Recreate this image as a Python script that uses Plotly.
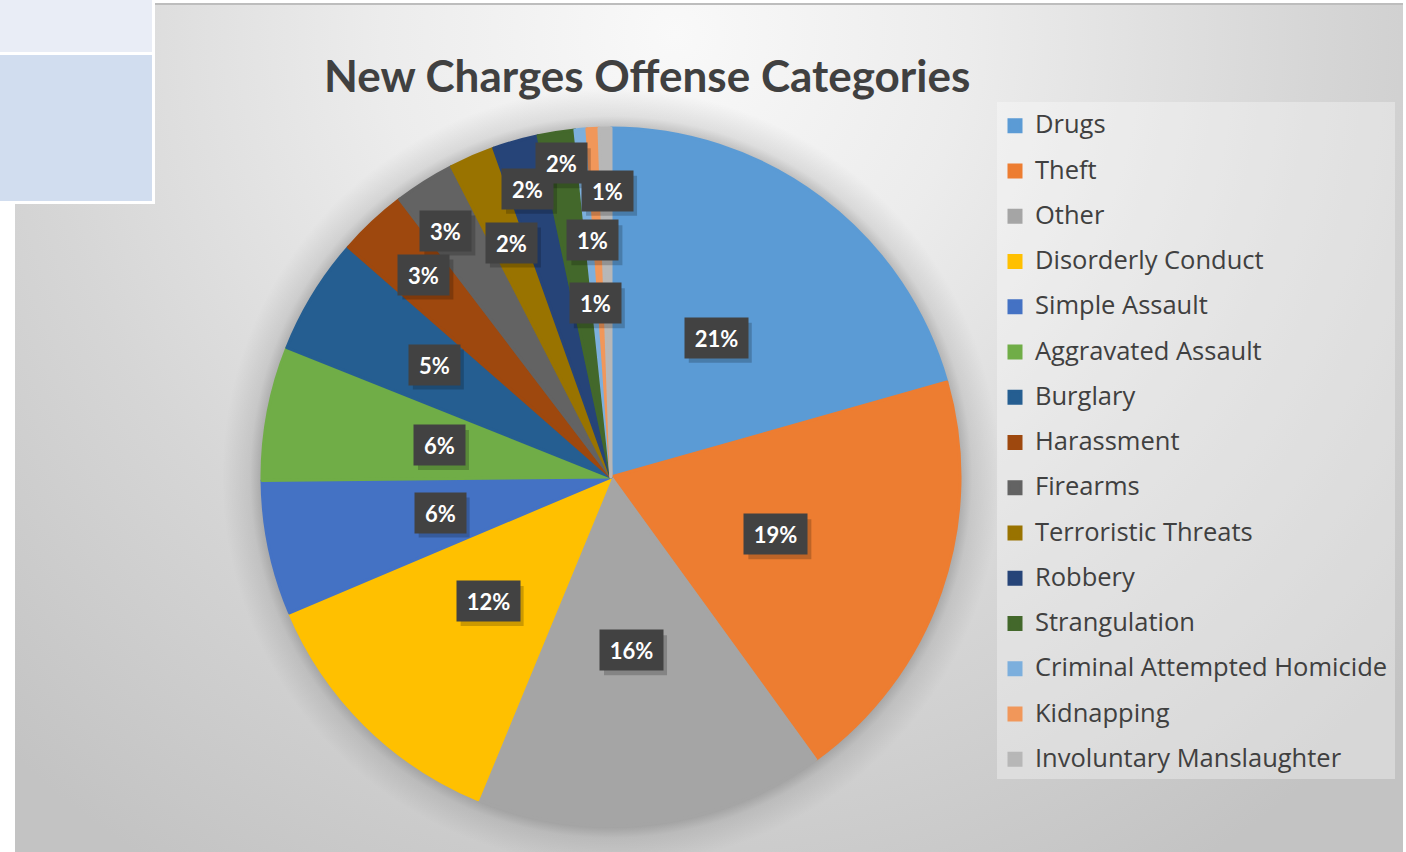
import base64
import math
import plotly.graph_objects as go

# ---------------- data ----------------
categories = ["Drugs", "Theft", "Other", "Disorderly Conduct", "Simple Assault",
              "Aggravated Assault", "Burglary", "Harassment", "Firearms",
              "Terroristic Threats", "Robbery", "Strangulation",
              "Criminal Attempted Homicide", "Kidnapping", "Involuntary Manslaughter"]
shares = [20.6, 19.4, 16.2, 12.4, 6.2, 6.2, 5.4, 3.2, 2.8, 2.1, 2.1, 1.7, 0.55, 0.55, 0.55]
colors = ["#5B9BD5", "#ED7D31", "#A5A5A5", "#FFC000", "#4472C4", "#70AD47", "#255E91",
          "#9E480E", "#636363", "#997300", "#264478", "#43682B", "#7CAFDD", "#F1975A", "#B7B7B7"]

# label placement (radius fraction, angle offset in degrees) - layout only
label_r = [0.5, 0.5, 0.5, 0.5, 0.5, 0.5, 0.6, 0.79, 0.85, 0.73, 0.86, 0.91, 0.50, 0.68, 0.82]
label_da = [0, 0, 0, 0, 0, 0, 1.0, 0.3, -1.6, 0.4, -0.3, 0, -0.2, -1.4, 0.3]

W, H = 1406, 852
CX, CY, R = 611, 477, 349


def fx(px):
    return px / W


def fy(py):
    return 1 - py / H


def svg_uri(svg):
    return "data:image/svg+xml;base64," + base64.b64encode(svg.encode()).decode()


bg_svg = """<svg xmlns='http://www.w3.org/2000/svg' width='1388' height='848'>
<defs><radialGradient id='g' gradientUnits='userSpaceOnUse' cx='660' cy='30' r='980'>
<stop offset='0' stop-color='#f9f9f9'/><stop offset='0.3' stop-color='#ececec'/>
<stop offset='0.65' stop-color='#d6d6d6'/><stop offset='1' stop-color='#c3c3c3'/>
</radialGradient></defs><rect width='1388' height='848' fill='url(#g)'/></svg>"""

SR = R + 40
shadow_svg = f"""<svg xmlns='http://www.w3.org/2000/svg' width='{2*SR}' height='{2*SR}'>
<defs><radialGradient id='s' cx='0.5' cy='0.5' r='0.5'>
<stop offset='0.85' stop-color='#000' stop-opacity='0.3'/>
<stop offset='{R/SR:.3f}' stop-color='#000' stop-opacity='0.22'/>
<stop offset='{(R+12)/SR:.3f}' stop-color='#000' stop-opacity='0.09'/>
<stop offset='1' stop-color='#000' stop-opacity='0'/>
</radialGradient></defs><circle cx='{SR}' cy='{SR}' r='{SR}' fill='url(#s)'/></svg>"""

fig = go.Figure()
fig.add_trace(go.Pie(
    labels=[f'<span style="font-size:25.5px;baseline-shift:5px">{c}</span>' for c in categories],
    values=shares,
    sort=False,
    direction="clockwise",
    rotation=0,
    textinfo="none",
    hoverinfo="skip",
    marker=dict(colors=colors, line=dict(color=colors, width=3)),
    domain=dict(x=[fx(CX - R), fx(CX + R)], y=[fy(CY + R), fy(CY - R)]),
))

shapes = [
    dict(type="line", xref="paper", yref="paper", x0=fx(15), x1=fx(1403), y0=fy(4), y1=fy(4),
         line=dict(color="#bdbdbd", width=2), layer="below"),
    dict(type="rect", xref="paper", yref="paper", x0=fx(997), x1=fx(1395), y0=fy(779), y1=fy(102),
         fillcolor="rgba(255,255,255,0.33)", line=dict(width=0), layer="below"),
]

total = sum(shares)
annotations = []
cum = 0.0
for i, v in enumerate(shares):
    mid = (cum + v / 2) / total * 360 + label_da[i]
    cum += v
    a = math.radians(mid)
    px = CX + label_r[i] * R * math.sin(a)
    py = CY - label_r[i] * R * math.cos(a)
    pct = round(v / total * 100)
    txt = f"{pct}%"
    bw = 31 + 12 * len(str(pct))
    shapes.append(dict(type="rect", xref="paper", yref="paper", layer="above",
                       x0=fx(px - bw / 2 - 4 + 4), x1=fx(px + bw / 2 + 4 + 4),
                       y0=fy(py + 20 + 5), y1=fy(py - 20 + 5),
                       fillcolor="rgba(0,0,0,0.2)", line=dict(width=0)))
    annotations.append(dict(x=fx(px), y=fy(py), xref="paper", yref="paper",
                            xanchor="center", yanchor="middle",
                            text=f"<b>{txt}</b>", showarrow=False, width=bw, height=32,
                            borderpad=4, bgcolor="#424242",
                            font=dict(family="Lato", size=22, color="white")))

annotations.append(dict(x=fx(647), y=fy(75), xref="paper", yref="paper",
                        xanchor="center", yanchor="middle",
                        text="<b>New Charges Offense Categories</b>", showarrow=False,
                        font=dict(family="Lato", size=44, color="#404040")))

shapes += [
    dict(type="rect", xref="paper", yref="paper", x0=fx(-3), x1=fx(153.5), y0=fy(53.5), y1=fy(-3),
         fillcolor="#E9EDF6", line=dict(color="white", width=3)),
    dict(type="rect", xref="paper", yref="paper", x0=fx(-3), x1=fx(153.5), y0=fy(202.5), y1=fy(53.5),
         fillcolor="#D1DDEF", line=dict(color="white", width=3)),
]

images = [
    dict(source=svg_uri(bg_svg), xref="paper", yref="paper", x=fx(15), y=fy(4),
         sizex=1388 / W, sizey=848 / H, xanchor="left", yanchor="top", sizing="stretch",
         layer="below"),
    dict(source=svg_uri(shadow_svg), xref="paper", yref="paper", x=fx(CX - SR), y=fy(CY - SR),
         sizex=2 * SR / W, sizey=2 * SR / H, xanchor="left", yanchor="top", sizing="stretch",
         layer="below"),
]

fig.update_layout(
    width=W, height=H, autosize=False,
    margin=dict(l=0, r=0, t=0, b=0),
    paper_bgcolor="white", plot_bgcolor="rgba(0,0,0,0)",
    showlegend=True,
    legend=dict(x=fx(995), y=fy(98), xanchor="left", yanchor="top",
                bgcolor="rgba(0,0,0,0)",
                font=dict(family="Open Sans", size=32.5, color="#404040"),
                traceorder="normal"),
    annotations=annotations, shapes=shapes, images=images,
)

fig.write_html("out.html", config={"displayModeBar": False},
               post_script="document.body.style.margin='0';")
